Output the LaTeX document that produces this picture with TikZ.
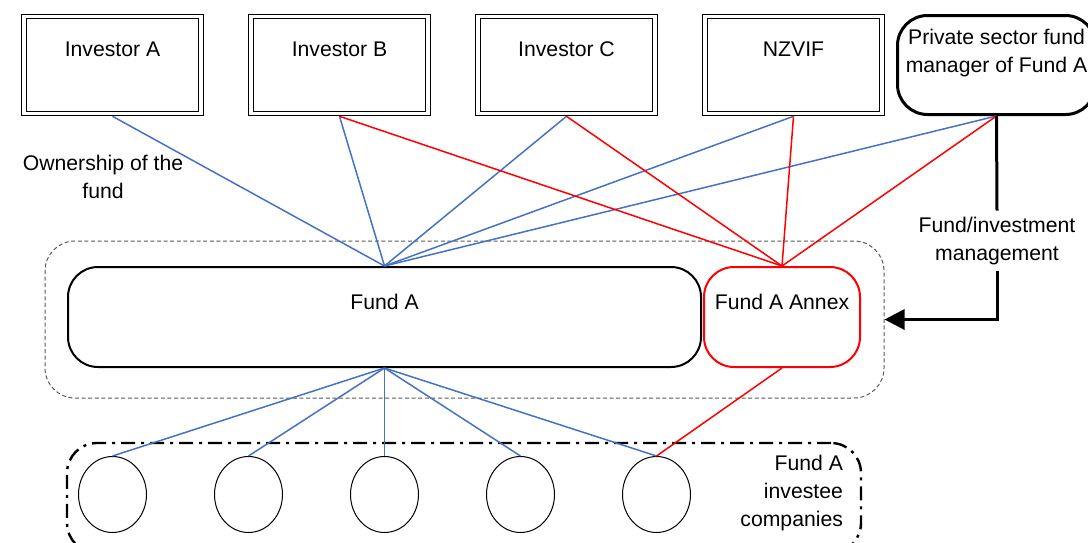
\documentclass[tikz,border=0pt]{standalone}
\usepackage{fontspec}
\setmainfont{Liberation Sans}
\usetikzlibrary{shapes.geometric,arrows.meta}
\definecolor{ownblue}{RGB}{68,114,196}
\definecolor{ownred}{RGB}{255,0,0}
\begin{document}
\begin{tikzpicture}[x=0.5pt,y=-0.5pt,>={Triangle[length=10pt,width=10pt]},
        font=\fontsize{10.6}{14}\selectfont,
        investor/.style={draw,double,line width=0.6pt,double distance=1.6pt,outer sep=1.4pt,
            minimum width=88.5pt,minimum height=48.5pt,text height=7.6pt,text depth=16.1pt},
        fund/.style={draw,rounded corners=15pt,line width=1pt,minimum height=50pt,
            text height=7.6pt,text depth=15pt},
        company/.style={draw,ellipse,line width=0.5pt,minimum width=34pt,minimum height=38pt},
        blueline/.style={ownblue,line width=0.75pt},
        redline/.style={ownred,line width=0.75pt}]
        \useasboundingbox (0,0) rectangle (1088,542);

        \node[investor] (invA) at (112.5,65) {Investor A};
        \node[investor] (invB) at (339.5,65) {Investor B};
        \node[investor] (invC) at (566.5,65) {Investor C};
        \node[investor] (nzvif) at (793.5,65) {NZVIF};
        \node[draw,rounded corners=15pt,line width=1.5pt,minimum width=99pt,minimum height=49.5pt,
            align=center] (mgr) at (996.5,65) {Private sector fund\\manager of Fund A\\ };

        \node[align=center] (own) at (103,177) {Ownership of the\\fund};
        \node[align=center,inner ysep=3pt] (mgmt) at (997,241) {Fund/investment\\management};

        \node[draw,gray!70!black,dash pattern=on 2pt off 1.3pt,line width=0.5pt,
            rounded corners=15pt,minimum width=419.5pt,minimum height=78.5pt] (fundgrp) at (464.5,319.5) {};
        \node[fund,minimum width=316.5pt] (fundA) at (384.5,317) {Fund A};
        \node[fund,ownred,minimum width=78pt] (annex) at (782,317) {\color{black}Fund A Annex};

        \node[draw,line width=1.2pt,dash pattern=on 7pt off 3pt on 1.5pt off 3pt,
            rounded corners=15pt,minimum width=397pt,minimum height=55pt] (cogrp) at (464,498) {};
        \node[company] (c1) at (112.5,494.5) {};
        \node[company] (c2) at (248.5,494.5) {};
        \node[company] (c3) at (384.5,494.5) {};
        \node[company] (c4) at (520.5,494.5) {};
        \node[company] (c5) at (656.5,494.5) {};
        \node[align=right,anchor=east] (colbl) at (850,493) {Fund A\\investee\\companies};

        \draw[blueline] (invA.south) -- (fundA.north);
        \draw[blueline] (invB.south) -- (fundA.north);
        \draw[blueline] (invC.south) -- (fundA.north);
        \draw[blueline] (nzvif.south) -- (fundA.north);
        \draw[blueline] (mgr.south) -- (fundA.north);

        \draw[redline] (invB.south) -- (annex.north);
        \draw[redline] (invC.south) -- (annex.north);
        \draw[redline] (nzvif.south) -- (annex.north);
        \draw[redline] (mgr.south) -- (annex.north);

        \draw[blueline] (fundA.south) -- (c1.north);
        \draw[blueline] (fundA.south) -- (c2.north);
        \draw[blueline] (fundA.south) -- (c3.north);
        \draw[blueline] (fundA.south) -- (c4.north);
        \draw[blueline] (fundA.south) -- (c5.north);
        \draw[redline] (annex.south) -- (c5.north);

        \draw[line width=1.5pt] (mgr.south) -- (mgmt.north);
        \draw[line width=1.5pt,->] (mgmt.south) |- (fundgrp.east);
    \end{tikzpicture}
\end{document}
